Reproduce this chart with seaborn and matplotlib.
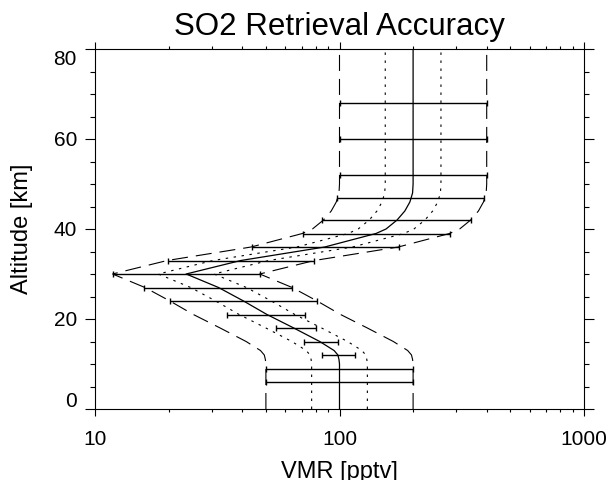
import numpy as np
import pandas as pd
import matplotlib
matplotlib.use("Agg")
import matplotlib.pyplot as plt
import matplotlib.transforms as mtransforms
import seaborn as sns
from matplotlib.ticker import LogLocator, MultipleLocator, NullFormatter

# SO2 reference profile (altitude in km, VMR in pptv)
prof_alt = [0, 10, 11, 12, 13, 15, 18, 21, 24, 27, 30, 31, 33, 36, 38, 39, 40, 42, 44, 46, 48, 50, 80]
prof_vmr = [100, 100, 99.5, 98.5, 95, 83, 65, 50.5, 40.5, 32, 23.6, 28, 39.5, 87, 120, 141, 155, 172, 185, 194, 199, 200, 200]

# multiplicative uncertainty envelopes around the profile
dotted_factor = 1.3
dashed_factor = 2.0

# retrieved ranges at each retrieval altitude
bar_alt = [6, 9, 12, 15, 18, 21, 24, 27, 30, 33, 36, 39, 42, 47, 52, 60, 68]
bar_lo = [50, 50, 84.6, 71.4, 54.8, 34.8, 20.3, 15.9, 11.8, 19.8, 43.7, 70.7, 84.6, 97.4, 100, 100, 100]
bar_hi = [200, 200, 115.7, 98.9, 79.9, 72.5, 81.2, 63.7, 47.3, 78.9, 175.6, 283, 344, 391, 400, 400, 400]

x_ticks = [10, 100, 1000]
x_tick_labels = ["10", "100", "1000"]
y_ticks = [0, 20, 40, 60, 80]

sns.set_theme(style="ticks")
plt.rcParams["font.family"] = ["Liberation Sans", "DejaVu Sans"]
plt.rcParams["text.color"] = "black"
plt.rcParams["axes.labelcolor"] = "black"
plt.rcParams["xtick.color"] = "black"
plt.rcParams["ytick.color"] = "black"

fig = plt.figure(figsize=(6.16, 4.8), dpi=100)
ax = fig.add_axes([95 / 616, 1 - 409 / 480, (584 - 95) / 616, (409 - 49) / 480])

prof = pd.DataFrame({"alt": prof_alt, "vmr": prof_vmr})

# envelopes
for factor, dash in ((dotted_factor, (2.2, 5.0)), (dashed_factor, (14.4, 7.2))):
    for side in (1 / factor, factor):
        env = prof.assign(vmr=prof["vmr"] * side)
        sns.lineplot(data=env, x="vmr", y="alt", orient="y", sort=False,
                     estimator=None, color="black", lw=0.8, ax=ax)
        ax.lines[-1].set_dashes(dash)

# profile itself
sns.lineplot(data=prof, x="vmr", y="alt", orient="y", sort=False,
             estimator=None, color="black", lw=0.9, ax=ax)

# retrieved ranges as horizontal error bars
lo = np.array(bar_lo)
hi = np.array(bar_hi)
ax.errorbar(lo, bar_alt, xerr=[np.zeros_like(lo), hi - lo], fmt="none",
            ecolor="black", elinewidth=1.0, capsize=2.2, capthick=1.0)

ax.set_xscale("log")
ax.set_xlim(10, 1000)
ax.set_ylim(0, 80)
ax.set_xticks(x_ticks, labels=x_tick_labels)
ax.xaxis.set_minor_locator(LogLocator(base=10, subs=range(2, 10)))
ax.xaxis.set_minor_formatter(NullFormatter())
ax.set_yticks(y_ticks)
ax.yaxis.set_minor_locator(MultipleLocator(5))

for s in ax.spines.values():
    s.set_color("black")
    s.set_linewidth(0.8)

ax.tick_params(which="both", direction="out", top=True, right=True,
               bottom=True, left=True, color="black", width=0.8)
ax.tick_params(axis="x", which="major", length=5, pad=10, labelsize=15)
ax.tick_params(axis="x", which="minor", length=2.5)
ax.tick_params(axis="y", which="major", length=7, pad=6, labelsize=15)
ax.tick_params(axis="y", which="minor", length=3.6)

# end labels of the altitude axis sit slightly inside the frame
ylabels = ax.get_yticklabels()
shift_up = mtransforms.ScaledTranslation(0, 7 / 72, fig.dpi_scale_trans)
shift_dn = mtransforms.ScaledTranslation(0, -6 / 72, fig.dpi_scale_trans)
ylabels[0].set_transform(ylabels[0].get_transform() + shift_up)
ylabels[-1].set_transform(ylabels[-1].get_transform() + shift_dn)

ax.set_xlabel("VMR [pptv]", fontsize=17, labelpad=9)
ax.set_ylabel("Altitude [km]", fontsize=17, labelpad=15)
ax.set_title("SO2 Retrieval Accuracy", fontsize=22.5, pad=10)

fig.savefig("out.png", dpi=100)
